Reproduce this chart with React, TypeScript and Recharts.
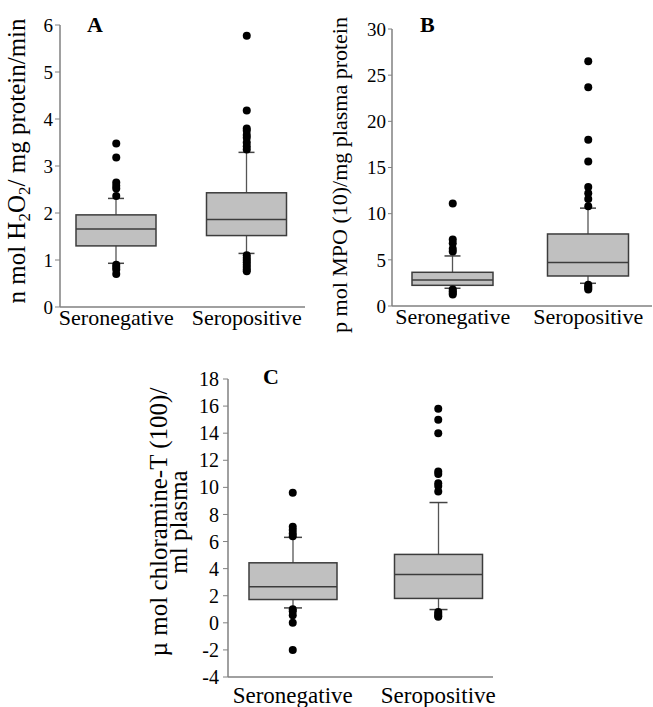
import React from "react";
import {
  ComposedChart,
  Bar,
  Scatter,
  XAxis,
  YAxis,
  Label,
} from "recharts";

// two groups shared by all three panels
const groups = ["Seronegative", "Seropositive"];

// panel A: H2O2 (whisker low, Q1, median, Q3, whisker high)
const h2o2Low = [0.93, 1.14];
const h2o2Q1 = [1.3, 1.52];
const h2o2Median = [1.66, 1.86];
const h2o2Q3 = [1.96, 2.43];
const h2o2High = [2.31, 3.29];
const h2o2OutNeg = [3.48, 3.18, 2.65, 2.58, 2.52, 2.36, 0.9, 0.85, 0.8, 0.7];
const h2o2OutPos = [5.77, 4.18, 3.8, 3.75, 3.66, 3.6, 3.5, 3.42, 3.35, 1.1, 1.05, 1.0, 0.95, 0.9, 0.85, 0.8, 0.76];
const h2o2Ticks = [0, 1, 2, 3, 4, 5, 6];

// panel B: MPO
const mpoLow = [1.92, 2.46];
const mpoQ1 = [2.24, 3.25];
const mpoMedian = [2.82, 4.7];
const mpoQ3 = [3.65, 7.8];
const mpoHigh = [5.42, 10.6];
const mpoOutNeg = [11.1, 7.2, 6.8, 6.2, 5.9, 1.8, 1.6, 1.4, 1.25];
const mpoOutPos = [26.5, 23.7, 18.0, 15.65, 12.9, 12.2, 11.6, 10.8, 2.3, 2.1, 1.95, 1.8];
const mpoTicks = [0, 5, 10, 15, 20, 25, 30];

// panel C: chloramine-T
const chlLow = [1.1, 0.98];
const chlQ1 = [1.72, 1.8];
const chlMedian = [2.66, 3.57];
const chlQ3 = [4.43, 5.05];
const chlHigh = [6.31, 8.88];
const chlOutNeg = [9.6, 7.1, 6.85, 6.6, 6.4, 1.0, 0.85, 0.55, 0.0, -2.0];
const chlOutPos = [15.8, 15.0, 14.0, 11.17, 10.98, 10.3, 10.1, 9.7, 0.8, 0.65, 0.5, 0.45];
const chlTicks = [-4, -2, 0, 2, 4, 6, 8, 10, 12, 14, 16, 18];

const serif = "Liberation Serif, Times New Roman, serif";
const axisColor = "#808080";
const boxFill = "#c0c0c0";
const boxStroke = "#3c3c3c";

const buildRows = (lo: number[], q1: number[], med: number[], q3: number[], hi: number[]) =>
  groups.map((g, i) => ({ g, lo: lo[i], q1: q1[i], med: med[i], q3: q3[i], hi: hi[i] }));

const buildOutliers = (neg: number[], pos: number[]) => [
  ...neg.map((v) => ({ g: groups[0], v })),
  ...pos.map((v) => ({ g: groups[1], v })),
];

// box drawn from the range bar [lo, hi]; inner values mapped on the same pixel span
const makeBoxShape = (capWidth: number) => (props: any) => {
  const { x, y, width, height, payload } = props;
  const top = Math.min(y, y + height);
  const bot = Math.max(y, y + height);
  const py = (v: number) => top + ((bot - top) * (payload.hi - v)) / (payload.hi - payload.lo);
  const cx = x + width / 2;
  return (
    <g>
      <line x1={cx} x2={cx} y1={top} y2={bot} stroke="#555" strokeWidth={1.3} />
      <line x1={cx - capWidth / 2} x2={cx + capWidth / 2} y1={top} y2={top} stroke="#444" strokeWidth={1.5} />
      <line x1={cx - capWidth / 2} x2={cx + capWidth / 2} y1={bot} y2={bot} stroke="#444" strokeWidth={1.5} />
      <rect
        x={x}
        y={py(payload.q3)}
        width={width}
        height={py(payload.q1) - py(payload.q3)}
        fill={boxFill}
        stroke={boxStroke}
        strokeWidth={1.5}
      />
      <line x1={x} x2={x + width} y1={py(payload.med)} y2={py(payload.med)} stroke={boxStroke} strokeWidth={1.5} />
    </g>
  );
};

const Dot = (props: any) => <circle cx={props.cx} cy={props.cy} r={4} fill="#000" />;

const rangeKey = (d: any) => [d.lo, d.hi];

interface PanelProps {
  rows: any[];
  outliers: any[];
  ticks: number[];
  width: number;
  height: number;
  margin: { top: number; right: number; bottom: number; left: number };
  yWidth: number;
  xHeight: number;
  xPad: { left: number; right: number };
  xTickMargin: number;
  xFont: number;
  yFont: number;
  yTickSize: number;
  yTickMargin: number;
  barSize: number;
  capWidth: number;
  yLabel: () => JSX.Element;
}

const Panel: React.FC<PanelProps> = (p) => (
  <ComposedChart width={p.width} height={p.height} data={p.rows} margin={p.margin} style={{ fontFamily: serif }}>
    <XAxis
      dataKey="g"
      type="category"
      allowDuplicatedCategory={false}
      interval={0}
      height={p.xHeight}
      padding={p.xPad}
      tickLine={false}
      tickSize={0}
      tickMargin={p.xTickMargin}
      axisLine={{ stroke: axisColor, strokeWidth: 1.5 }}
      tick={{ fontSize: p.xFont, fill: "#000", fontFamily: serif, style: { fontFamily: serif } }}
    />
    <YAxis
      type="number"
      domain={[p.ticks[0], p.ticks[p.ticks.length - 1]]}
      ticks={p.ticks}
      interval={0}
      width={p.yWidth}
      tickSize={p.yTickSize}
      tickMargin={p.yTickMargin}
      axisLine={{ stroke: axisColor, strokeWidth: 1.5 }}
      tickLine={{ stroke: axisColor }}
      tick={{ fontSize: p.yFont, fill: "#000", fontFamily: serif, style: { fontFamily: serif } }}
    >
      <Label content={p.yLabel} />
    </YAxis>
    <Bar dataKey={rangeKey} barSize={p.barSize} shape={makeBoxShape(p.capWidth)} isAnimationActive={false} />
    <Scatter data={p.outliers} dataKey="v" shape={Dot} isAnimationActive={false} />
  </ComposedChart>
);

const labelA = () => (
  <text transform="translate(25,161) rotate(-90)" textAnchor="middle" style={{ fontFamily: serif, fontSize: 25 }} fill="#000">
    n mol H
    <tspan dy={5} fontSize={17}>2</tspan>
    <tspan dy={-5}>O</tspan>
    <tspan dy={5} fontSize={17}>2</tspan>
    <tspan dy={-5}>/ mg protein/min</tspan>
  </text>
);

const labelB = () => (
  <text transform="translate(27,175) rotate(-90)" textAnchor="middle" style={{ fontFamily: serif, fontSize: 22 }} fill="#000">
    p mol MPO (10)/mg plasma protein
  </text>
);

const labelC = () => (
  <text transform="translate(27,182) rotate(-90)" textAnchor="middle" style={{ fontFamily: serif, fontSize: 25 }} fill="#000">
    <tspan x={0} dy={0}>µ mol chloramine-T (100)/</tspan>
    <tspan x={0} dy={20}>ml plasma</tspan>
  </text>
);

const title = (text: string, left: number, top: number) => (
  <div
    style={{
      position: "absolute",
      left,
      top,
      fontFamily: serif,
      fontWeight: "bold",
      fontSize: 22,
      lineHeight: "22px",
      color: "#000",
    }}
  >
    {text}
  </div>
);

export default function App() {
  return (
    <div
      style={{
        position: "absolute",
        left: 0,
        top: 0,
        width: 653,
        height: 707,
        background: "#fff",
        overflow: "hidden",
        fontFamily: serif,
      }}
    >
      <div style={{ position: "absolute", left: 0, top: 0 }}>
        <Panel
          rows={buildRows(h2o2Low, h2o2Q1, h2o2Median, h2o2Q3, h2o2High)}
          outliers={buildOutliers(h2o2OutNeg, h2o2OutPos)}
          ticks={h2o2Ticks}
          width={320}
          height={340}
          margin={{ top: 25, right: 15, bottom: 0, left: 0 }}
          yWidth={60}
          xHeight={33}
          xPad={{ left: -9, right: -7 }}
          xTickMargin={2}
          xFont={22}
          yFont={19}
          yTickSize={5}
          yTickMargin={2}
          barSize={80}
          capWidth={16}
          yLabel={labelA}
        />
      </div>
      <div style={{ position: "absolute", left: 320, top: 0 }}>
        <Panel
          rows={buildRows(mpoLow, mpoQ1, mpoMedian, mpoQ3, mpoHigh)}
          outliers={buildOutliers(mpoOutNeg, mpoOutPos)}
          ticks={mpoTicks}
          width={333}
          height={340}
          margin={{ top: 29, right: 1, bottom: 0, left: 0 }}
          yWidth={72}
          xHeight={34}
          xPad={{ left: -7, right: -4 }}
          xTickMargin={2}
          xFont={22}
          yFont={19}
          yTickSize={4}
          yTickMargin={2}
          barSize={81}
          capWidth={16}
          yLabel={labelB}
        />
      </div>
      <div style={{ position: "absolute", left: 140, top: 340 }}>
        <Panel
          rows={buildRows(chlLow, chlQ1, chlMedian, chlQ3, chlHigh)}
          outliers={buildOutliers(chlOutNeg, chlOutPos)}
          ticks={chlTicks}
          width={360}
          height={367}
          margin={{ top: 39, right: 7, bottom: 0, left: 0 }}
          yWidth={88}
          xHeight={30}
          xPad={{ left: -8, right: -18 }}
          xTickMargin={10}
          xFont={23}
          yFont={20}
          yTickSize={5}
          yTickMargin={4}
          barSize={88}
          capWidth={18}
          yLabel={labelC}
        />
      </div>
      {title("A", 87, 14)}
      {title("B", 420, 14)}
      {title("C", 263, 366)}
    </div>
  );
}
